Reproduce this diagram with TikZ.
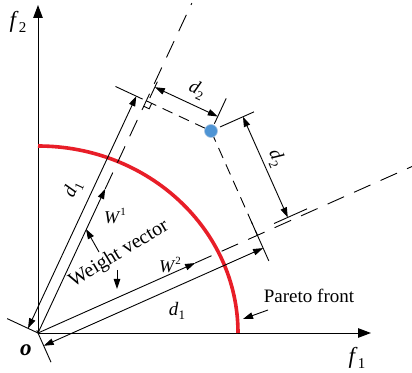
\documentclass[tikz,border=0pt]{standalone}
\usepackage{fontspec}
\setmainfont{Liberation Serif}
\usetikzlibrary{arrows.meta,calc}
\definecolor{pfred}{RGB}{232,30,40}
\definecolor{dotblue}{RGB}{78,148,212}
\definecolor{dotedge}{RGB}{170,198,226}
\newcommand{\sbs}[2]{\textit{#1}\raisebox{-0.25em}{\fontsize{13}{13}\selectfont #2}}
\newcommand{\sbl}[2]{\textit{#1}\raisebox{-0.25em}{\fontsize{15}{15}\selectfont #2}}
\newcommand{\sps}[2]{\textit{#1}\raisebox{0.42em}{\fontsize{11}{11}\selectfont #2}}
\begin{document}
\begin{tikzpicture}[x=1pt,y=1pt,
  ln/.style={line width=0.9pt,black},
  tip/.style={-{Triangle[length=10pt,width=6.5pt]}},
  dtip/.style={{Triangle[length=10pt,width=6.5pt]}-{Triangle[length=10pt,width=6.5pt]}},
  axis/.style={line width=1pt,black,-{Triangle[length=13pt,width=9.5pt]}},
  longdash/.style={line width=0.9pt,dash pattern=on 18pt off 11pt},
  shortdash/.style={line width=0.9pt,dash pattern=on 11pt off 7pt},
  lbl/.style={inner sep=0pt,font=\fontsize{19}{21}\selectfont},
  biglbl/.style={inner sep=0pt,font=\fontsize{23}{25}\selectfont},
  wlbl/.style={inner sep=0pt,font=\fontsize{18}{20}\selectfont}]
\useasboundingbox (-38,-39) rectangle (374,333);
% key points
\coordinate (O) at (0,0);
\coordinate (XE) at (333,0);
\coordinate (YE) at (0,328);
\coordinate (P) at (173,202);
\coordinate (E1) at (65:364);
\coordinate (E2) at (24:410);
\coordinate (T1) at (65:159);
\coordinate (T2) at (24:172);
\coordinate (F1) at ($(O)!(P)!(E1)$);
\coordinate (F2) at ($(O)!(P)!(E2)$);
% axes
\draw[axis] (O) -- (XE);
\draw[axis] (O) -- (YE);
% Pareto front
\draw[line width=3.6pt,pfred] (200,0) arc[start angle=0,end angle=90,x radius=200pt,y radius=187pt];
% weight vectors
\draw[ln,tip] (O) -- (T1);
\draw[ln,tip] (O) -- (T2);
\draw[longdash] (T1) -- (E1);
\draw[longdash] (T2) -- (E2);
% projection lines
\draw[shortdash] (F1) -- (P) -- (F2);
\draw[ln] ($(F1)+(245:6)$) -- ++(-25:6) -- ++(65:6);
% d1 along W1
\draw[ln] (O) -- ($(O)+(155:34)$);
\draw[ln] ($(F1)+(155:4)$) -- ($(F1)+(155:34)$);
\draw[ln,dtip] ($(O)+(155:11)$) -- ($(F1)+(155:11)$);
% d1 along W2
\draw[ln] ($(O)+(-66:-3)$) -- ($(O)+(-66:32)$);
\draw[ln] ($(F2)+(-66:-15)$) -- ($(F2)+(-66:28)$);
\draw[ln,dtip] ($(O)+(-66:14)$) -- ($(F2)+(-66:14)$);
% d2 to W1
\draw[ln] ($(F1)+(65:4)+(-25:2)$) -- ($(F1)+(65:22)+(-25:2)$);
\draw[ln] ($(P)+(65:8)$) -- ($(P)+(65:36)$);
\draw[ln,dtip] ($(F1)+(65:16)+(-25:2)$) -- ($(P)+(65:16)$);
% d2 to W2
\draw[ln] ($(F2)+(24:20)+(114:4)$) -- ($(F2)+(24:56)+(114:4)$);
\draw[ln] ($(P)+(24:10)$) -- ($(P)+(24:47)$);
\draw[ln,dtip] ($(F2)+(24:35)+(114:4)$) -- ($(P)+(24:35)$);
% solution point
\fill[dotblue,draw=dotedge,line width=0.6pt] (P) circle[radius=6.5pt];
% labels
\node[biglbl] (lf2) at (-20,311) {\sbl{f}{2}};
\node[biglbl] (lf1) at (319,-25) {\sbl{f}{1}};
\node[biglbl] (lo) at (-12,-17) {\textbf{\textit{o}}};
\node[lbl,rotate=65] (ld1a) at (35,144) {\sbs{d}{1}};
\node[lbl] (ld1b) at (139,22) {\sbs{d}{1}};
\node[lbl,rotate=-25] (ld2a) at (159,243) {\sbs{d}{2}};
\node[lbl,rotate=-66] (ld2b) at (238,175) {\sbs{d}{2}};
\node[wlbl] (lw1) at (77,117) {\sps{W}{1}};
\node[wlbl] (lw2) at (132,68) {\sps{W}{2}};
\node[lbl,rotate=31,font=\fontsize{20}{22}\selectfont] (lwv) at (81,79) {Weight vector};
\node[lbl] (lpf) at (271,37) {Pareto front};
% label pointers
\coordinate (wa0) at (61,81);
\coordinate (wa1) at (48,104);
\coordinate (wb0) at (79,63);
\coordinate (wb1) at (79,44);
\coordinate (pa0) at (230,23);
\coordinate (pa1) at (205,14);
\draw[ln,tip] (wa0) -- (wa1);
\draw[ln,tip] (wb0) -- (wb1);
\draw[ln,tip] (pa0) -- (pa1);
\end{tikzpicture}
\end{document}
